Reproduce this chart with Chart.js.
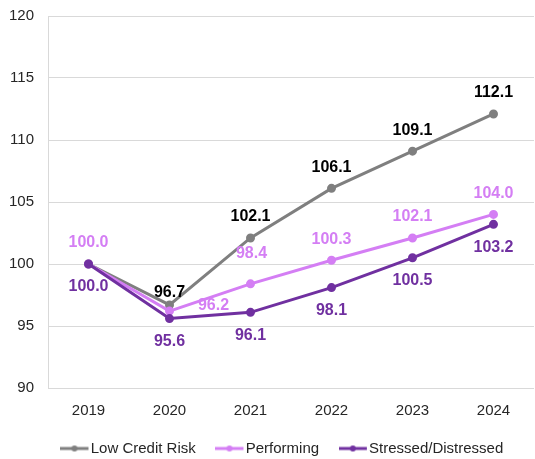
<!DOCTYPE html>
<html>
<head>
<meta charset="utf-8">
<script src="https://cdn.jsdelivr.net/npm/chart.js@4.4.1/dist/chart.umd.min.js"></script>
<style>
  html, body { margin: 0; padding: 0; background: #fff; overflow: hidden; }
  #wrap { width: 540px; height: 459px; }
</style>
</head>
<body>
<div id="wrap"><canvas id="c" width="540" height="459"></canvas></div>
<script>
// Index values by year for three credit-risk groups (2019 = 100)
const years = ['2019', '2020', '2021', '2022', '2023', '2024'];
const lowCreditRisk = [100.0, 96.7, 102.1, 106.1, 109.1, 112.1];
const performing = [100.0, 96.2, 98.4, 100.3, 102.1, 104.0];
const stressedDistressed = [100.0, 95.6, 96.1, 98.1, 100.5, 103.2];
const seriesNames = ['Low Credit Risk', 'Performing', 'Stressed/Distressed'];
const yMin = 90, yMax = 120, yStep = 5;

const GRAY = '#7f7f7f';
const VIOLET = '#d47ef4';
const PURPLE = '#7030a0';
const TEXT = '#262626';
const FONT = '"Liberation Sans", Arial, sans-serif';

// Value label styling per series; a few labels are nudged or hidden to keep them clear of the lines
const labelStyle = [
  { color: '#000000', dy: -21, nudge: { 0: null, 1: { dx: 0, dy: -12 } } },
  { color: VIOLET, dy: -21, nudge: { 1: { dx: 44, dy: -6 }, 2: { dx: 1, dy: -30 } } },
  { color: PURPLE, dy: 23, nudge: {} }
];

// Legend swatch: short line with a dot, drawn off-centre so it sits right next to its text
function swatch(color) {
  const c = document.createElement('canvas');
  c.width = 31; c.height = 8;
  const g = c.getContext('2d');
  g.strokeStyle = color; g.lineWidth = 3;
  g.beginPath(); g.moveTo(0, 4); g.lineTo(28, 4); g.stroke();
  g.fillStyle = color;
  g.beginPath(); g.arc(14, 4, 3, 0, Math.PI * 2); g.fill();
  return c;
}

const valueLabels = {
  id: 'valueLabels',
  afterDatasetsDraw(chart) {
    const ctx = chart.ctx;
    ctx.save();
    ctx.font = 'bold 16px ' + FONT;
    ctx.textAlign = 'center';
    ctx.textBaseline = 'middle';
    chart.data.datasets.forEach((ds, i) => {
      const st = labelStyle[i];
      chart.getDatasetMeta(i).data.forEach((pt, j) => {
        const n = (j in st.nudge) ? st.nudge[j] : { dx: 0, dy: st.dy };
        if (!n) return;
        ctx.fillStyle = st.color;
        ctx.fillText(ds.data[j].toFixed(1), pt.x + n.dx, pt.y + n.dy);
      });
    });
    ctx.restore();
  }
};

// Nudge the legend row: a bit right of the canvas centre and up towards the axis labels
const legendOffset = {
  id: 'legendOffset',
  afterLayout(chart) {
    const lg = chart.legend;
    if (lg) { lg.left += 16; lg.right += 16; lg.top -= 21; }
  }
};

const colors = [GRAY, VIOLET, PURPLE];
const seriesData = [lowCreditRisk, performing, stressedDistressed];

new Chart(document.getElementById('c'), {
  type: 'line',
  data: {
    labels: years,
    datasets: seriesData.map((d, i) => ({
      label: seriesNames[i],
      data: d,
      borderColor: colors[i],
      backgroundColor: colors[i],
      borderWidth: 3,
      pointRadius: 3,
      pointHoverRadius: 3,
      tension: 0,
      fill: false,
      order: 2 - i
    }))
  },
  options: {
    responsive: false,
    animation: false,
    layout: { padding: { left: 0, top: 16, right: 0, bottom: 0 } },
    plugins: {
      tooltip: { enabled: false },
      legend: {
        position: 'bottom',
        maxHeight: 25,
        labels: {
          usePointStyle: true,
          pointStyleWidth: 14.5,
          padding: 28,
          color: TEXT,
          font: { size: 15, family: FONT },
          generateLabels(chart) {
            return chart.data.datasets.map((ds, i) => ({
              text: ds.label,
              pointStyle: swatch(ds.borderColor),
              fillStyle: ds.borderColor,
              strokeStyle: ds.borderColor,
              lineWidth: 0,
              hidden: false,
              datasetIndex: i,
              fontColor: TEXT
            }));
          }
        }
      }
    },
    scales: {
      x: {
        offset: true,
        grid: { display: false, drawTicks: false },
        border: { display: false },
        ticks: { color: TEXT, font: { size: 15, family: FONT }, padding: 14 }
      },
      y: {
        min: yMin, max: yMax,
        afterFit(scale) { scale.width = 48; scale.paddingTop = 9; },
        grid: { color: '#d9d9d9', drawTicks: false },
        border: { color: '#d9d9d9' },
        ticks: { stepSize: yStep, color: TEXT, font: { size: 15, family: FONT }, padding: 14 }
      }
    }
  },
  plugins: [valueLabels, legendOffset]
});
</script>
</body>
</html>
